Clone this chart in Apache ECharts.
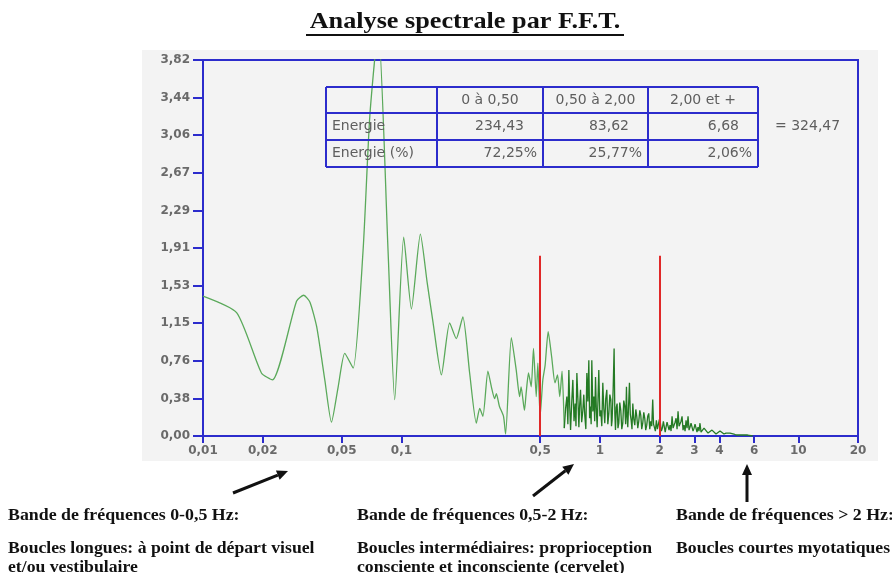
<!DOCTYPE html>
<html>
<head>
<meta charset="utf-8">
<script src="https://cdn.jsdelivr.net/npm/echarts@6/dist/echarts.min.js"></script>
<style>
html,body{margin:0;padding:0;background:#ffffff;}
#chart{width:892px;height:573px;}
</style>
</head>
<body>
<div id="chart"></div>
<script>
// Spectre de puissance (FFT), partie basses fréquences : fréquence en Hz, amplitude
const lowFreqHz = [
  0.0100,0.0148,0.0197,0.0224,0.0296,0.0322,0.0346,0.0374,0.0411,0.0444,
  0.0480,0.0518,0.0571,0.0641,0.0693,0.0765,0.0856,0.0925,0.1027,0.1123,
  0.1246,0.1350,0.1442,0.1590,0.1750,0.1890,0.2040,0.2207,0.2385,0.2480,
  0.2575,0.2728,0.2840,0.2950,0.3010,0.3120,0.3270,0.3350,0.3580,0.3790,
  0.3940,0.4010,0.4170,0.4250,0.4370,0.4510,0.4630,0.4780,0.4870,0.5000,
  0.5160,0.5300,0.5490,0.5720,0.5940,0.6120,0.6280,0.6450,0.6620
];
const lowPower = [
  1.42,1.25,0.64,0.57,1.37,1.43,1.36,1.11,0.57,0.14,
  0.50,0.84,0.69,1.89,3.25,4.15,1.89,0.37,2.02,1.29,
  2.05,1.55,1.16,0.62,1.15,0.99,1.21,0.64,0.13,0.28,
  0.20,0.66,0.50,0.38,0.43,0.30,0.20,0.02,1.00,0.67,
  0.40,0.50,0.26,0.43,0.64,0.50,0.89,0.40,0.74,0.20,
  0.57,0.72,1.06,0.80,0.54,0.62,0.40,0.66,0.08
];

// Partie dense du spectre (au-delà de 0,66 Hz)
const highFreqHz = [
  0.662,0.672,0.682,0.690,0.698,0.705,0.712,0.722,0.731,0.741,
  0.751,0.758,0.766,0.775,0.784,0.791,0.799,0.810,0.821,0.830,
  0.840,0.850,0.860,0.870,0.880,0.888,0.897,0.904,0.911,0.922,
  0.933,0.942,0.951,0.960,0.969,0.978,0.988,1.000,1.011,1.023,
  1.035,1.047,1.059,1.071,1.084,1.097,1.110,1.123,1.136,1.145,
  1.153,1.167,1.180,1.190,1.199,1.210,1.222,1.234,1.246,1.260,
  1.275,1.290,1.305,1.320,1.336,1.349,1.362,1.372,1.383,1.396,
  1.410,1.424,1.438,1.452,1.466,1.483,1.500,1.518,1.535,1.553,
  1.571,1.590,1.608,1.626,1.645,1.665,1.684,1.703,1.723,1.743,
  1.764,1.785,1.805,1.826,1.847,1.865,1.883,1.905,1.927,1.950,
  1.973,1.996,2.019,2.042,2.066,2.090,2.115,2.135,2.156,2.181,
  2.207,2.233,2.259,2.285,2.312,2.339,2.366,2.394,2.422,2.450,
  2.478,2.507,2.536,2.566,2.596,2.626,2.657,2.688,2.719,2.751,
  2.783,2.815,2.848,2.881,2.915,2.949,2.984,3.018,3.052,3.088,
  3.124,3.160,3.197,3.235,3.272,3.350,3.428,3.510,3.591,3.675,
  3.761,3.850,3.940,4.033,4.127,4.224,4.324,4.425,4.528,4.634,
  4.742,4.855,4.968,5.244,5.555,5.886
];
const highPower = [
  0.08,0.28,0.40,0.12,0.67,0.30,0.06,0.35,0.57,0.15,
  0.33,0.10,0.64,0.38,0.09,0.31,0.47,0.14,0.26,0.42,
  0.20,0.07,0.64,0.35,0.77,0.18,0.30,0.12,0.77,0.25,
  0.40,0.15,0.60,0.28,0.09,0.35,0.67,0.20,0.26,0.10,
  0.54,0.28,0.13,0.38,0.47,0.12,0.23,0.42,0.37,0.10,
  0.16,0.48,0.89,0.22,0.06,0.29,0.33,0.08,0.13,0.34,
  0.26,0.07,0.13,0.36,0.30,0.12,0.50,0.20,0.09,0.31,
  0.54,0.22,0.16,0.07,0.33,0.17,0.11,0.27,0.20,0.08,
  0.15,0.26,0.21,0.07,0.13,0.24,0.18,0.06,0.11,0.20,
  0.23,0.07,0.15,0.10,0.37,0.12,0.13,0.05,0.16,0.07,
  0.09,0.17,0.13,0.05,0.08,0.15,0.13,0.04,0.09,0.14,
  0.16,0.06,0.11,0.05,0.20,0.08,0.09,0.14,0.18,0.07,
  0.25,0.10,0.09,0.15,0.20,0.06,0.11,0.05,0.16,0.08,
  0.20,0.06,0.09,0.13,0.15,0.05,0.08,0.12,0.11,0.04,
  0.09,0.05,0.13,0.04,0.06,0.08,0.06,0.03,0.04,0.06,
  0.05,0.02,0.03,0.05,0.04,0.02,0.03,0.02,0.03,0.01,
  0.02,0.01,0.02,0.01,0.01,0.00
];

// Graduations de l'axe des fréquences (échelle logarithmique)
const xTickValues = [0.01, 0.02, 0.05, 0.1, 0.5, 1, 2, 3, 4, 6, 10, 20];
const yMax = 3.82;
const yStep = 0.382;

// Limites des bandes de fréquences et hauteur des repères
const bandLimits = [0.5, 2];
const bandMarkerTop = 1.83;

// Tableau des énergies par bande
const tableHeader = ['', '0 à 0,50', '0,50 à 2,00', '2,00 et +'];
const energyRow = ['Energie', '234,43', '83,62', '6,68'];
const energyPctRow = ['Energie (%)', '72,25%', '25,77%', '2,06%'];
const energyTotal = '= 324,47';

// Commentaires sous le graphique
const chartTitle = 'Analyse spectrale par F.F.T.';
const bandTitles = [
  'Bande de fréquences 0-0,5 Hz:',
  'Bande de fréquences 0,5-2 Hz:',
  'Bande de fréquences > 2 Hz:'
];
const bandNotes = [
  ['Boucles longues: à point de départ visuel', 'et/ou vestibulaire'],
  ['Boucles intermédiaires: proprioception', 'consciente et inconsciente (cervelet)'],
  ['Boucles courtes myotatiques']
];

const BLUE = '#2c2ccc';
const AXIS_TEXT = '#6a6a6a';

function frNumber(v, digits) {
  const s = digits == null ? String(Number(Number(v).toPrecision(6))) : Number(v).toFixed(digits);
  return s.replace('.', ',');
}

function arrow(x1, y1, x2, y2) {
  const ang = Math.atan2(y2 - y1, x2 - x1);
  const L = 11, W = 5;
  const bx = x2 - L * Math.cos(ang), by = y2 - L * Math.sin(ang);
  const px = -Math.sin(ang) * W, py = Math.cos(ang) * W;
  return [
    { type: 'line', silent: true, shape: { x1: x1, y1: y1, x2: bx, y2: by },
      style: { stroke: '#111', lineWidth: 3 } },
    { type: 'polygon', silent: true, shape: { points: [[x2, y2], [bx + px, by + py], [bx - px, by - py]] },
      style: { fill: '#111' } }
  ];
}

// Construction du tableau des énergies
function energyTable() {
  const cols = [326, 437, 543, 648, 758];
  const rows = [87, 113, 140, 167];
  const els = [];
  const lineStyle = { stroke: BLUE, lineWidth: 2 };
  rows.forEach(function (y) {
    els.push({ type: 'line', silent: true, shape: { x1: cols[0], y1: y, x2: cols[4], y2: y }, style: lineStyle, z: 5 });
  });
  cols.forEach(function (x) {
    els.push({ type: 'line', silent: true, shape: { x1: x, y1: rows[0], x2: x, y2: rows[3] }, style: lineStyle, z: 5 });
  });
  const font = { fontFamily: 'DejaVu Sans', fontSize: 14, fill: '#5e5e5e' };
  const txt = function (text, x, y, align) {
    els.push({ type: 'text', silent: true, x: x, y: y, z: 6,
      style: Object.assign({ text: text, align: align, verticalAlign: 'middle' }, font) });
  };
  for (let c = 1; c < 4; c++) {
    txt(tableHeader[c], (cols[c] + cols[c + 1]) / 2, (rows[0] + rows[1]) / 2, 'center');
    txt(energyRow[c], cols[c + 1] - 19, (rows[1] + rows[2]) / 2, 'right');
    txt(energyPctRow[c], cols[c + 1] - 6, (rows[2] + rows[3]) / 2, 'right');
  }
  txt(energyRow[0], cols[0] + 6, (rows[1] + rows[2]) / 2, 'left');
  txt(energyPctRow[0], cols[0] + 6, (rows[2] + rows[3]) / 2, 'left');
  txt(energyTotal, 775, (rows[1] + rows[2]) / 2, 'left');
  return els;
}

function annotations() {
  const els = [];
  const serif = { fontFamily: 'Liberation Serif', fontWeight: 'bold', fontSize: 17, fill: '#111' };
  const xs = [8, 357, 676];
  xs.forEach(function (x, i) {
    els.push({ type: 'text', silent: true, x: x, y: 516, scaleX: 1.05,
      style: Object.assign({ text: bandTitles[i], align: 'left', verticalAlign: 'middle' }, serif) });
    bandNotes[i].forEach(function (line, j) {
      els.push({ type: 'text', silent: true, x: x, y: 549 + j * 19, scaleX: 1.04,
        style: Object.assign({ text: line, align: 'left', verticalAlign: 'middle' }, serif) });
    });
  });
  return els
    .concat(arrow(233, 493, 288, 471))
    .concat(arrow(533, 496, 574, 464))
    .concat(arrow(747, 502, 747, 464));
}

function pairs(xs, ys) {
  return xs.map(function (x, i) { return [x, ys[i]]; });
}

const chart = echarts.init(document.getElementById('chart'), null, { renderer: 'canvas' });

const option = {
  animation: false,
  backgroundColor: '#ffffff',
  graphic: [
    { type: 'rect', silent: true, z: -10, shape: { x: 142, y: 50, width: 736, height: 411 },
      style: { fill: '#f3f3f3' } },
    { type: 'text', silent: true, x: 465, y: 22, scaleX: 1.14,
      style: { text: chartTitle, align: 'center', verticalAlign: 'middle',
        fontFamily: 'Liberation Serif', fontWeight: 'bold', fontSize: 23, fill: '#111' } },
    { type: 'line', silent: true, shape: { x1: 306, y1: 35, x2: 624, y2: 35 },
      style: { stroke: '#111', lineWidth: 2 } }
  ].concat(energyTable()).concat(annotations()),
  grid: {
    left: 203, right: 34, top: 60, bottom: 137,
    show: true, borderColor: BLUE, borderWidth: 2, backgroundColor: 'transparent',
    outerBoundsMode: 'none'
  },
  xAxis: {
    type: 'log', logBase: 10, min: 0.01, max: 20,
    axisLine: { show: true, lineStyle: { color: BLUE, width: 2 } },
    axisTick: { show: true, length: 7, customValues: xTickValues, lineStyle: { color: BLUE, width: 2 } },
    minorTick: { show: false },
    splitLine: { show: false },
    axisLabel: {
      customValues: xTickValues, margin: 9, color: AXIS_TEXT,
      fontFamily: 'DejaVu Sans', fontWeight: 'bold', fontSize: 12,
      formatter: function (v) { return frNumber(v); }
    }
  },
  yAxis: {
    type: 'value', min: 0, max: yMax, interval: yStep,
    axisLine: { show: true, lineStyle: { color: BLUE, width: 2 } },
    axisTick: { show: true, length: 10, lineStyle: { color: BLUE, width: 2 } },
    splitLine: { show: false },
    axisLabel: {
      margin: 13, color: AXIS_TEXT,
      fontFamily: 'DejaVu Sans', fontWeight: 'bold', fontSize: 12,
      formatter: function (v) { return frNumber(v, 2); }
    }
  },
  series: [{
    type: 'line',
    data: pairs(lowFreqHz, lowPower),
    showSymbol: false,
    smooth: 0.2,
    clip: true,
    lineStyle: { width: 1.3, color: '#5aa95a' },
    z: 3
  }, {
    type: 'line',
    data: pairs(highFreqHz, highPower),
    showSymbol: false,
    smooth: false,
    clip: true,
    lineStyle: { width: 1.3, color: '#247a24' },
    z: 3,
    markLine: {
      silent: true,
      symbol: 'none',
      label: { show: false },
      lineStyle: { color: '#e02828', width: 2, type: 'solid' },
      data: bandLimits.map(function (f) {
        return [{ coord: [f, 0] }, { coord: [f, bandMarkerTop] }];
      })
    }
  }]
};

chart.setOption(option);
</script>
</body>
</html>
